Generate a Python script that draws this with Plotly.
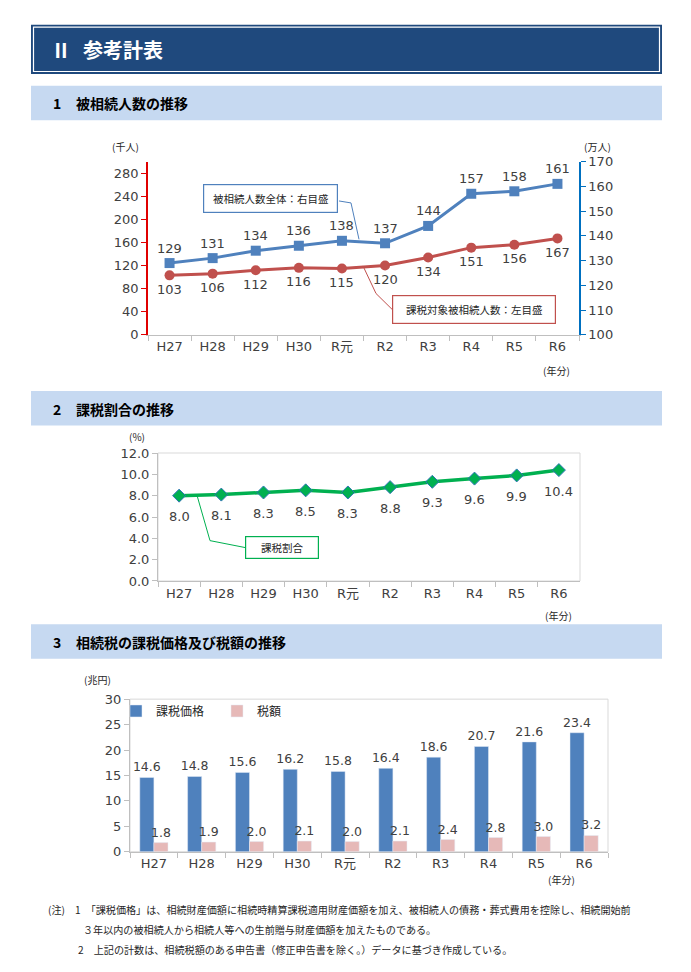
import plotly.graph_objects as go

W, H = 691, 972

years = ["H27", "H28", "H29", "H30", "R元", "R2", "R3", "R4", "R5", "R6"]
total_decedents = [129, 131, 134, 136, 138, 137, 144, 157, 158, 161]      # 万人 (right axis)
taxable_decedents = [103, 106, 112, 116, 115, 120, 134, 151, 156, 167]    # 千人 (left axis)
tax_ratio = [8.0, 8.1, 8.3, 8.5, 8.3, 8.8, 9.3, 9.6, 9.9, 10.4]            # %
taxable_value = [14.6, 14.8, 15.6, 16.2, 15.8, 16.4, 18.6, 20.7, 21.6, 23.4]  # 兆円
tax_amount = [1.8, 1.9, 2.0, 2.1, 2.0, 2.1, 2.4, 2.8, 3.0, 3.2]             # 兆円

JP = "Noto Sans CJK JP"
NUM = "DejaVu Sans, Noto Sans CJK JP"
TXT = "#404040"

def px(x):
    return x / W

def py(y):
    return 1 - y / H

fig = go.Figure()

# ---- chart 1 ----
fig.add_trace(go.Scatter(x=years, y=taxable_decedents, xaxis="x", yaxis="y",
                         mode="lines+markers", line=dict(color="#C0504D", width=3),
                         marker=dict(symbol="circle", size=10, color="#C0504D"),
                         showlegend=False, cliponaxis=False))
fig.add_trace(go.Scatter(x=years, y=total_decedents, xaxis="x", yaxis="y2",
                         mode="lines+markers", line=dict(color="#4F81BD", width=3),
                         marker=dict(symbol="square", size=10, color="#4F81BD"),
                         showlegend=False, cliponaxis=False))

# ---- chart 2 ----
fig.add_trace(go.Scatter(x=years, y=tax_ratio, xaxis="x3", yaxis="y3",
                         mode="lines+markers", line=dict(color="#00B050", width=3.5),
                         marker=dict(symbol="diamond", size=10, color="#00B050",
                                     line=dict(color="#2E75B6", width=1)),
                         showlegend=False, cliponaxis=False))

# ---- chart 3 ----
fig.add_trace(go.Bar(x=years, y=taxable_value, xaxis="x4", yaxis="y4", name="課税価格",
                     marker=dict(color="#4F81BD"), text=[f"{v:.1f}" for v in taxable_value],
                     textposition="outside", constraintext="none",
                     textfont=dict(size=12.5, color=TXT, family=NUM), cliponaxis=False))
fig.add_trace(go.Bar(x=years, y=tax_amount, xaxis="x4", yaxis="y4", name="税額",
                     marker=dict(color="#E6B9B8"), text=[f"{v:.1f}" for v in tax_amount],
                     textposition="outside", constraintext="none",
                     textfont=dict(size=12.5, color=TXT, family=NUM), cliponaxis=False))

ann = []
# data labels chart 1
for c, v in zip(years, total_decedents):
    ann.append(dict(x=c, y=v, xref="x", yref="y2", text=str(v), showarrow=False, yshift=15,
                    font=dict(size=13, color=TXT, family=NUM)))
for c, v in zip(years, taxable_decedents):
    ann.append(dict(x=c, y=v, xref="x", yref="y", text=str(v), showarrow=False, yshift=-14,
                    font=dict(size=13, color=TXT, family=NUM)))
# data labels chart 2
for c, v in zip(years, tax_ratio):
    ann.append(dict(x=c, y=v, xref="x3", yref="y3", text=f"{v:.1f}", showarrow=False, yshift=-21,
                    font=dict(size=13, color=TXT, family=NUM)))

def note(x, y, text, size=11, color=TXT, family=JP, xanchor="center", **kw):
    ann.append(dict(x=px(x), y=py(y), xref="paper", yref="paper", text=text, showarrow=False,
                    xanchor=xanchor, yanchor="middle", font=dict(size=size, color=color, family=family), **kw))

# header texts
note(49, 43, "<b>Ⅱ</b>", size=20, color="white", xanchor="left")
note(81, 43, "<b>参考計表</b>", size=20, color="white", xanchor="left")
for yy, num, txt in ((98, "1", "被相続人数の推移"), (408, "2", "課税割合の推移"),
                     (645, "3", "相続税の課税価格及び税額の推移")):
    note(51, yy, f"<b>{num}</b>", size=14, color="black", xanchor="left")
    note(74, yy, f"<b>{txt}</b>", size=14, color="black", xanchor="left")

# axis unit labels
note(125, 142, "(千人)", size=10, color="#262626")
note(597, 142, "(万人)", size=10, color="#262626")
note(556, 369, "(年分)", size=10, color="#262626")
note(137, 436, "(%)", size=10, color="#262626")
note(558, 618, "(年分)", size=10, color="#262626")
note(98, 683, "(兆円)", size=10, color="#262626")
note(561, 886, "(年分)", size=10, color="#262626")

# callout boxes
ann.append(dict(x=px(270.5), y=py(195), xref="paper", yref="paper", text="被相続人数全体：右目盛",
                showarrow=False, xanchor="center", yanchor="middle", width=131, height=25,
                bordercolor="#4F81BD", borderwidth=1.2,
                bgcolor="white", font=dict(size=10.5, color="#262626", family=JP)))
ann.append(dict(x=px(474), y=py(307), xref="paper", yref="paper", text="課税対象被相続人数：左目盛",
                showarrow=False, xanchor="center", yanchor="middle", width=160, height=25,
                bordercolor="#C0504D", borderwidth=1.2,
                bgcolor="white", font=dict(size=10.5, color="#262626", family=JP)))
ann.append(dict(x=px(282), y=py(549), xref="paper", yref="paper", text="課税割合",
                showarrow=False, xanchor="center", yanchor="middle", width=70, height=19,
                bordercolor="#00B050", borderwidth=1.2,
                bgcolor="white", font=dict(size=10.5, color="#262626", family=JP)))

# footnotes
note(46, 917, "(注)　1　「課税価格」は、相続財産価額に相続時精算課税適用財産価額を加え、被相続人の債務・葬式費用を控除し、相続開始前",
     size=10.1, color="#262626", xanchor="left")
note(81, 937, "３年以内の被相続人から相続人等への生前贈与財産価額を加えたものである。",
     size=10.1, color="#262626", xanchor="left")
note(76, 957, "2　上記の計数は、相続税額のある申告書（修正申告書を除く。）データに基づき作成している。",
     size=10.1, color="#262626", xanchor="left")

shapes = []
def rect(x0, y0, x1, y1, fill=None, line=None, lw=0):
    shapes.append(dict(type="rect", xref="paper", yref="paper", x0=px(x0), x1=px(x1), y0=py(y1), y1=py(y0),
                       fillcolor=fill if fill else "rgba(0,0,0,0)",
                       line=dict(color=line if line else "rgba(0,0,0,0)", width=lw), layer="below"))

def path(points, color, width=1):
    d = "M " + " L ".join(f"{px(a)},{py(b)}" for a, b in points)
    shapes.append(dict(type="path", xref="paper", yref="paper", path=d, line=dict(color=color, width=width)))

# title bar
rect(31, 18, 662, 68, fill="#1F497D")
rect(33.5, 20.5, 659.5, 65.5, line="white", lw=1.2)
# section bands
rect(31, 80, 662, 115, fill="#C6D9F1")
rect(31, 390, 662, 425, fill="#C6D9F1")
rect(31, 627, 662, 662, fill="#C6D9F1")

# leader lines
path([(339, 197), (351, 199), (359, 236)], "#4F81BD", 1)
path([(363, 263), (376, 291), (392, 307)], "#C0504D", 1)
path([(197, 496), (210, 542), (245, 549)], "#00B050", 1)

# plot borders for charts 2 and 3
for xa, ya in (("x3", "y3"), ("x4", "y4")):
    shapes.append(dict(type="rect", xref=f"{xa} domain", yref=f"{ya} domain", x0=0, x1=1, y0=0, y1=1,
                       line=dict(color="#D9D9D9", width=1), layer="below"))

tickfont = dict(size=13, color=TXT, family=NUM)
xcommon = dict(type="category", range=[-0.5, 9.5], ticks="outside", tickson="boundaries", ticklen=5,
               tickcolor="#BFBFBF", showline=True, linecolor="#BFBFBF", linewidth=1, showgrid=False,
               tickfont=tickfont, fixedrange=True)

fig.update_layout(
    width=W, height=H, margin=dict(l=0, r=0, t=0, b=0),
    paper_bgcolor="white", plot_bgcolor="rgba(0,0,0,0)",
    annotations=ann, shapes=shapes,
    barmode="group", bargap=0.41, bargroupgap=0,
    showlegend=True,
    legend=dict(orientation="h", x=px(116), y=py(715), xanchor="left", yanchor="middle",
                font=dict(size=12, color="#262626", family=JP), bgcolor="rgba(0,0,0,0)",
                entrywidth=56, itemwidth=30, tracegroupgap=0),
    xaxis=dict(domain=[px(148), px(579)], anchor="y", **xcommon),
    yaxis=dict(domain=[py(333), py(157)], range=[0, 300], tickvals=list(range(0, 281, 40)),
               showline=True, linecolor="#E00000", linewidth=1.5, ticks="outside", ticklen=5,
               tickcolor="#E00000", showgrid=False, zeroline=False, tickfont=tickfont, anchor="x"),
    yaxis2=dict(overlaying="y", side="right", range=[100, 170], dtick=10,
                showline=True, linecolor="#0070C0", linewidth=1.5, ticks="outside", ticklen=5,
                tickcolor="#0070C0", showgrid=False, zeroline=False, tickfont=tickfont, anchor="x"),
    xaxis3=dict(domain=[px(158), px(580)], anchor="y3", **xcommon),
    yaxis3=dict(domain=[py(583), py(453)], range=[0, 12], dtick=2, tickformat=".1f",
                showline=True, linecolor="#BFBFBF", linewidth=1, ticks="outside", ticklen=5,
                tickcolor="#BFBFBF", showgrid=False, zeroline=False, tickfont=tickfont, anchor="x3"),
    xaxis4=dict(domain=[px(130), px(608)], anchor="y4", **xcommon),
    yaxis4=dict(domain=[py(858), py(703)], range=[0, 30], dtick=5,
                showline=True, linecolor="#BFBFBF", linewidth=1, ticks="outside", ticklen=5,
                tickcolor="#BFBFBF", showgrid=False, zeroline=False, tickfont=tickfont, anchor="x4"),
)

fig.write_html("out.html", config={"displayModeBar": False},
               post_script="document.body.style.margin='0px';document.body.style.overflow='hidden';")
